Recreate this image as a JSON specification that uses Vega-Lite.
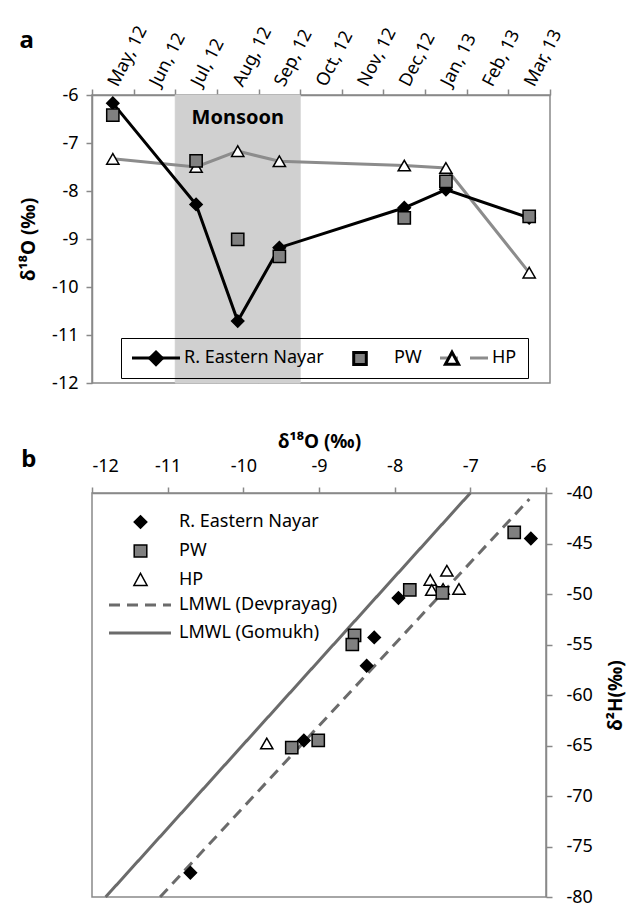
{
  "$schema": "https://vega.github.io/schema/vega-lite/v6.json",
  "background": "white",
  "padding": {"left": 18, "top": 22, "right": 5, "bottom": 5},
  "bounds": "flush",
  "spacing": 110,
  "config": {
    "font": "Noto Sans",
    "view": {"stroke": "#898989", "strokeWidth": 1.5},
    "axis": {
      "grid": false,
      "domainColor": "#898989",
      "domainWidth": 1.5,
      "tickColor": "#898989",
      "tickWidth": 1.5,
      "tickSize": 6,
      "labelFontSize": 18,
      "labelColor": "black",
      "titleFontSize": 19,
      "titleFontWeight": "bold",
      "titleColor": "black"
    },
    "legend": {"labelFontSize": 18, "labelColor": "black"}
  },
  "resolve": {
    "scale": {"fill": "independent", "shape": "independent", "stroke": "independent", "strokeDash": "independent", "x": "independent", "y": "independent"},
    "legend": {"fill": "independent", "shape": "independent", "stroke": "independent", "strokeDash": "independent"}
  },
  "datasets": {
    "monsoon": [{"month": "2012-07"}, {"month": "2012-08"}, {"month": "2012-09"}],
    "monsoonLabel": [{"month": "2012-08", "label": "Monsoon"}],
    "timeseries": [
      {"series": "HP", "month": "2012-05", "d18O": -7.33},
      {"series": "HP", "month": "2012-07", "d18O": -7.50},
      {"series": "HP", "month": "2012-08", "d18O": -7.17},
      {"series": "HP", "month": "2012-09", "d18O": -7.38},
      {"series": "HP", "month": "2012-12", "d18O": -7.47},
      {"series": "HP", "month": "2013-01", "d18O": -7.52},
      {"series": "HP", "month": "2013-03", "d18O": -9.70},
      {"series": "R. Eastern Nayar", "month": "2012-05", "d18O": -6.17},
      {"series": "R. Eastern Nayar", "month": "2012-07", "d18O": -8.28},
      {"series": "R. Eastern Nayar", "month": "2012-08", "d18O": -10.71},
      {"series": "R. Eastern Nayar", "month": "2012-09", "d18O": -9.18},
      {"series": "R. Eastern Nayar", "month": "2012-12", "d18O": -8.35},
      {"series": "R. Eastern Nayar", "month": "2013-01", "d18O": -7.97},
      {"series": "R. Eastern Nayar", "month": "2013-03", "d18O": -8.56},
      {"series": "PW", "month": "2012-05", "d18O": -6.42},
      {"series": "PW", "month": "2012-07", "d18O": -7.37},
      {"series": "PW", "month": "2012-08", "d18O": -9.01},
      {"series": "PW", "month": "2012-09", "d18O": -9.36},
      {"series": "PW", "month": "2012-12", "d18O": -8.56},
      {"series": "PW", "month": "2013-01", "d18O": -7.80},
      {"series": "PW", "month": "2013-03", "d18O": -8.53}
    ],
    "isotopes": [
      {"sample": "HP", "d18O": -7.31, "d2H": -47.7},
      {"sample": "HP", "d18O": -7.53, "d2H": -48.6},
      {"sample": "HP", "d18O": -7.51, "d2H": -49.6},
      {"sample": "HP", "d18O": -7.36, "d2H": -49.5},
      {"sample": "HP", "d18O": -7.15, "d2H": -49.5},
      {"sample": "HP", "d18O": -9.69, "d2H": -64.8},
      {"sample": "PW", "d18O": -6.42, "d2H": -43.9},
      {"sample": "PW", "d18O": -7.80, "d2H": -49.6},
      {"sample": "PW", "d18O": -7.37, "d2H": -49.9},
      {"sample": "PW", "d18O": -8.53, "d2H": -54.1},
      {"sample": "PW", "d18O": -8.56, "d2H": -55.0},
      {"sample": "PW", "d18O": -9.36, "d2H": -65.2},
      {"sample": "PW", "d18O": -9.01, "d2H": -64.5},
      {"sample": "R. Eastern Nayar", "d18O": -6.20, "d2H": -44.5},
      {"sample": "R. Eastern Nayar", "d18O": -7.95, "d2H": -50.4},
      {"sample": "R. Eastern Nayar", "d18O": -8.27, "d2H": -54.3},
      {"sample": "R. Eastern Nayar", "d18O": -8.37, "d2H": -57.1},
      {"sample": "R. Eastern Nayar", "d18O": -9.20, "d2H": -64.5},
      {"sample": "R. Eastern Nayar", "d18O": -10.70, "d2H": -77.6}
    ],
    "lmwl": [
      {"line": "LMWL (Devprayag)", "d18O": -11.10, "d2H": -80},
      {"line": "LMWL (Devprayag)", "d18O": -6.22, "d2H": -40.6},
      {"line": "LMWL (Gomukh)", "d18O": -11.82, "d2H": -80},
      {"line": "LMWL (Gomukh)", "d18O": -7.00, "d2H": -40}
    ]
  },
  "vconcat": [
    {
      "title": {"text": "a", "anchor": "start", "frame": "bounds", "fontSize": 24, "fontWeight": "bold", "dx": 0, "dy": 30, "offset": 0},
      "width": 458,
      "height": 288,
      "layer": [
        {
          "data": {"name": "monsoon"},
          "mark": {"type": "bar", "color": "#d0d0d0", "stroke": "#d0d0d0", "strokeWidth": 1},
          "encoding": {
            "x": {
              "field": "month", "type": "ordinal",
              "scale": {"domain": ["2012-05", "2012-06", "2012-07", "2012-08", "2012-09", "2012-10", "2012-11", "2012-12", "2013-01", "2013-02", "2013-03"], "paddingInner": 0, "paddingOuter": 0},
              "axis": {
                "orient": "top", "title": null, "labelAngle": -63, "labelAlign": "left", "labelBaseline": "middle",
                "tickBand": "extent", "labelPadding": 4,
                "labelExpr": "isString(datum.value) ? (datum.value === '2012-12' ? 'Dec,12' : utcFormat(toDate(datum.value + '-15'), '%b, %y')) : ''"
              }
            },
            "y": {
              "datum": -6, "type": "quantitative",
              "scale": {"domain": [-12, -6], "nice": false, "zero": false},
              "axis": {"title": "δ¹⁸O (‰)", "values": [-12, -11, -10, -9, -8, -7, -6], "labelExpr": "toString(datum.value)", "labelPadding": 8, "titlePadding": 13}
            },
            "y2": {"datum": -12}
          }
        },
        {
          "data": {"name": "timeseries"},
          "transform": [{"filter": "datum.series !== 'PW'"}],
          "mark": {"type": "line", "strokeWidth": 3},
          "encoding": {
            "x": {"field": "month", "type": "ordinal"},
            "y": {"field": "d18O", "type": "quantitative"},
            "stroke": {
              "field": "series", "type": "nominal",
              "scale": {"domain": ["R. Eastern Nayar", "PW", "HP", "_"], "range": ["black", "transparent", "#8c8c8c", "white"]},
              "legend": {
                "title": null, "values": ["R. Eastern Nayar", "PW", "HP"],
                "orient": "none", "legendX": 29, "legendY": 243, "direction": "horizontal", "columns": 3,
                "symbolSize": 144, "symbolType": "M-1.5,0H1.5M3.5,0H6.5", "symbolStrokeWidth": 3,
                "labelOffset": 34, "columnPadding": 12, "padding": 11, "strokeColor": "black",
                "encode": {"legend": {"strokeWidth": {"value": 2}}}
              }
            }
          }
        },
        {
          "data": {"name": "timeseries"},
          "mark": {"type": "point", "filled": true, "stroke": "black", "strokeWidth": 1.5, "size": 150, "opacity": 1},
          "encoding": {
            "x": {"field": "month", "type": "ordinal"},
            "y": {"field": "d18O", "type": "quantitative"},
            "fill": {
              "field": "series", "type": "nominal",
              "scale": {"domain": ["R. Eastern Nayar", "PW", "HP"], "range": ["black", "#808080", "white"]},
              "legend": {
                "title": null, "orient": "none", "legendX": 29, "legendY": 243, "direction": "horizontal", "columns": 3,
                "symbolSize": 144, "symbolStrokeWidth": 3, "labelOffset": 34, "columnPadding": 12, "padding": 11, "labelOpacity": 0,
                "symbolType": {"expr": "datum.value === 'PW' ? 'M1.45,-1H3.55V1H1.45Z' : datum.value === 'HP' ? 'M2.5,-1.1L3.6,0.9H1.4Z' : 'M2.5,-1.05L3.55,0L2.5,1.05L1.45,0Z'"},
                "encode": {"symbols": {"stroke": {"value": "black"}, "strokeWidth": {"value": 1.5}}}
              }
            },
            "shape": {
              "field": "series", "type": "nominal",
              "scale": {"domain": ["R. Eastern Nayar", "PW", "HP", "__"], "range": ["diamond", "square", "triangle-up", "circle"]},
              "legend": null
            }
          }
        },
        {
          "data": {"name": "monsoonLabel"},
          "mark": {"type": "text", "fontSize": 20, "fontWeight": "bold", "color": "black"},
          "encoding": {
            "x": {"field": "month", "type": "ordinal"},
            "y": {"datum": -6.48, "type": "quantitative"},
            "text": {"field": "label"}
          }
        }
      ]
    },
    {
      "title": {"text": "b", "anchor": "start", "frame": "bounds", "fontSize": 24, "fontWeight": "bold", "dx": -70, "dy": 40, "offset": 0},
      "width": 454,
      "height": 404,
      "layer": [
        {
          "data": {"name": "lmwl"},
          "mark": {"type": "line", "strokeWidth": 3, "color": "#6b6b6b"},
          "encoding": {
            "x": {
              "field": "d18O", "type": "quantitative",
              "scale": {"domain": [-12, -6], "nice": false, "zero": false},
              "axis": {"orient": "top", "title": "δ¹⁸O (‰)", "values": [-12, -11, -10, -9, -8, -7, -6], "labelExpr": "toString(datum.value)", "labelPadding": 12, "titlePadding": 6}
            },
            "y": {
              "field": "d2H", "type": "quantitative",
              "scale": {"domain": [-80, -40], "nice": false, "zero": false},
              "axis": {"orient": "right", "title": "δ²H(‰)", "titleAngle": 270, "titleBaseline": "top", "values": [-80, -75, -70, -65, -60, -55, -50, -45, -40], "labelExpr": "toString(datum.value)", "labelPadding": 14, "titlePadding": 14}
            },
            "strokeDash": {
              "field": "line", "type": "nominal",
              "scale": {"domain": ["LMWL (Devprayag)", "LMWL (Gomukh)"], "range": [[11, 7], [1, 0]]},
              "legend": {
                "title": null, "orient": "none", "legendX": 17, "legendY": 103, "direction": "vertical",
                "symbolSize": 144, "symbolType": "M-1.5,0H8.83", "symbolStrokeWidth": 3, "symbolStrokeColor": "#6b6b6b",
                "labelOffset": 52, "rowPadding": 10, "padding": 0
              }
            }
          }
        },
        {
          "data": {"name": "isotopes"},
          "mark": {"type": "point", "filled": true, "stroke": "black", "strokeWidth": 1.5, "size": 150, "opacity": 1},
          "encoding": {
            "x": {"field": "d18O", "type": "quantitative"},
            "y": {"field": "d2H", "type": "quantitative"},
            "fill": {
              "field": "sample", "type": "nominal",
              "scale": {"domain": ["R. Eastern Nayar", "PW", "HP"], "range": ["black", "#808080", "white"]},
              "legend": {
                "title": null, "orient": "none", "legendX": 17, "legendY": 20, "direction": "vertical",
                "symbolSize": 144, "symbolStrokeWidth": 1.5, "labelOffset": 52, "rowPadding": 10, "padding": 0,
                "symbolType": {"expr": "datum.value === 'PW' ? 'M2.7,-1H4.8V1H2.7Z' : datum.value === 'HP' ? 'M3.75,-1.1L4.85,0.9H2.65Z' : 'M3.75,-1.05L4.8,0L3.75,1.05L2.7,0Z'"},
                "encode": {"symbols": {"stroke": {"value": "black"}, "strokeWidth": {"value": 1.5}}}
              }
            },
            "shape": {
              "field": "sample", "type": "nominal",
              "scale": {"domain": ["R. Eastern Nayar", "PW", "HP", "_"], "range": ["diamond", "square", "triangle-up", "circle"]},
              "legend": null
            }
          }
        }
      ]
    }
  ]
}
